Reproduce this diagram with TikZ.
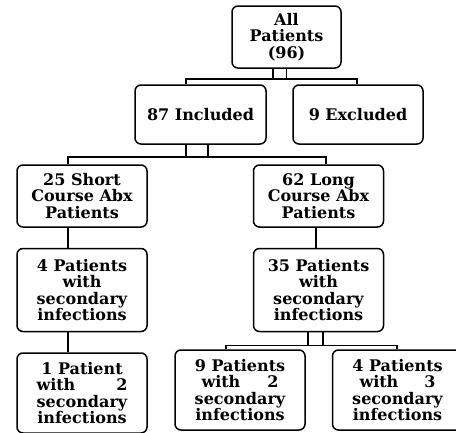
\documentclass[tikz,border=0pt]{standalone}
\usepackage{fontspec}
\setmainfont{DejaVu Serif}
\usetikzlibrary{positioning,calc}

\begin{document}
\begin{tikzpicture}[
  x=1pt,y=-1pt,
  every node/.style={font=\bfseries\fontsize{16}{16.5}\selectfont},
  flow-box/.style={draw,line width=1.5pt,rounded corners=6pt,align=center,minimum width=130pt,inner sep=0pt},
  flow-link/.style={draw,line width=1.5pt},
  ]
  \useasboundingbox (0,0) rectangle (456,432);

  \node [flow-box,minimum width=109pt,minimum height=62pt] (all-root) at (286.5,37) {All\\Patients\\(96)};
  \node [flow-box,minimum width=131pt,minimum height=59pt] (incl-node) at (200.5,114.5) {87 Included};
  \node [flow-box,minimum height=59pt] (excl-node) at (358,114.5) {9 Excluded};

  \node [flow-box,minimum height=62pt] (short-node) at (82,196) {25 Short\\Course Abx\\Patients};
  \node [flow-box,minimum height=62pt] (long-node) at (318.5,196) {62 Long\\Course Abx\\Patients};

  \node [flow-box,minimum height=83pt,below=20pt of short-node] (short-sec-node) {4 Patients\\with\\secondary\\infections};
  \node [flow-box,minimum height=83pt,below=20pt of long-node] (long-sec-node) {35 Patients\\with\\secondary\\infections};

  \node [flow-box,minimum height=80pt,below=20pt of short-sec-node] (short-two-node) {1 Patient\\\makebox[91pt]{with\hfill 2}\\secondary\\infections};
  \node [flow-box,minimum height=80pt] (long-two-node) at (240,390) {9 Patients\\\makebox[77pt]{with\hfill 2}\\secondary\\infections};
  \node [flow-box,minimum height=80pt] (long-three-node) at (397.5,390) {4 Patients\\\makebox[76pt]{with\hfill 3}\\secondary\\infections};

  \coordinate (all-bus) at ($(all-root.south)+(0,10)$);
  \draw [flow-link] ([xshift=-13.5pt]all-root.south) -- ++(0,10);
  \draw [flow-link] (all-root.south) -- (all-bus);
  \draw [flow-link] ([xshift=-14.5pt]incl-node.north) |- (all-bus) -| ([xshift=-1pt]excl-node.north);

  \coordinate (incl-bus) at ($(incl-node.south)+(7.5,12)$);
  \draw [flow-link] ([xshift=-14.5pt]incl-node.south) -- ++(0,12);
  \draw [flow-link] ([xshift=7.5pt]incl-node.south) -- (incl-bus);
  \draw [flow-link] ([xshift=-14pt]short-node.north) |- (incl-bus) -| ([xshift=7.5pt]long-node.north);

  \draw [flow-link] ([xshift=-14pt]short-node.south) -- ([xshift=-14pt]short-sec-node.north);
  \draw [flow-link] ([xshift=-2.5pt]long-node.south) -- ([xshift=-2.5pt]long-sec-node.north);
  \draw [flow-link] ([xshift=-14pt]short-sec-node.south) -- ([xshift=-14pt]short-two-node.north);

  \coordinate (long-sec-bus) at ($(long-sec-node.south)+(4.5,13)$);
  \draw [flow-link] ([xshift=-10.5pt]long-sec-node.south) -- ++(0,13);
  \draw [flow-link] ([xshift=4.5pt]long-sec-node.south) -- (long-sec-bus);
  \draw [flow-link] ([xshift=-14pt]long-two-node.north) |- (long-sec-bus) -| ([xshift=-0.5pt]long-three-node.north);

\end{tikzpicture}
\end{document}
